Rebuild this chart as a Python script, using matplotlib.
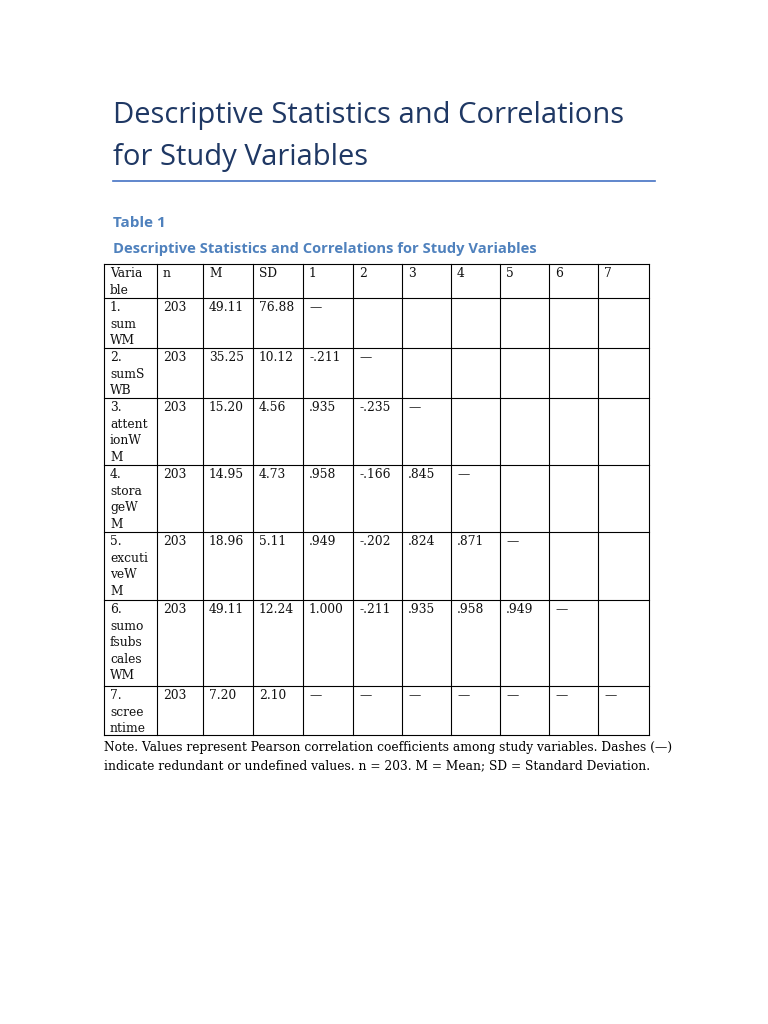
import matplotlib
matplotlib.use("Agg")
import matplotlib.pyplot as plt
from matplotlib.lines import Line2D

headers = ["Varia\nble", "n", "M", "SD", "1", "2", "3", "4", "5", "6", "7"]
variables = ["1.\nsum\nWM", "2.\nsumS\nWB", "3.\nattent\nionW\nM", "4.\nstora\ngeW\nM",
             "5.\nexcuti\nveW\nM", "6.\nsumo\nfsubs\ncales\nWM", "7.\nscree\nntime"]
n_vals = ["203"] * 7
means = ["49.11", "35.25", "15.20", "14.95", "18.96", "49.11", "7.20"]
sds = ["76.88", "10.12", "4.56", "4.73", "5.11", "12.24", "2.10"]
corrs = [
    ["—", "", "", "", "", "", ""],
    ["-.211", "—", "", "", "", "", ""],
    [".935", "-.235", "—", "", "", "", ""],
    [".958", "-.166", ".845", "—", "", "", ""],
    [".949", "-.202", ".824", ".871", "—", "", ""],
    ["1.000", "-.211", ".935", ".958", ".949", "—", ""],
    ["—", "—", "—", "—", "—", "—", "—"],
]

W, H = 768, 1024
fig = plt.figure(figsize=(W/100, H/100), dpi=100)
fig.patch.set_facecolor("white")

def T(x, y, s, **kw):
    fig.text(x/W, 1-y/H, s, **kw)

navy = "#1F3864"
blue = "#4472C4"
T(113, 115, "Descriptive Statistics and Correlations", fontsize=21, color=navy, family="Open Sans", va="center")
T(113, 157, "for Study Variables", fontsize=21, color=navy, family="Open Sans", va="center")
fig.add_artist(Line2D([113/W, 655/W], [1-181/H]*2, color=blue, lw=1.2))
T(113, 223, "Table 1", fontsize=11, color="#4F81BD", weight="bold", family="Open Sans", va="center")
T(113, 249, "Descriptive Statistics and Correlations for Study Variables", fontsize=10.6,
  color="#4F81BD", weight="bold", family="Open Sans", va="center")

xs = [104, 157, 203, 253, 303, 353, 402, 451, 500, 549, 598, 649]
ys = [264, 298, 348, 398, 465, 532, 600, 686, 735]
for x in xs:
    fig.add_artist(Line2D([x/W]*2, [1-ys[0]/H, 1-ys[-1]/H], color="black", lw=0.8))
for y in ys:
    fig.add_artist(Line2D([xs[0]/W, xs[-1]/W], [1-y/H]*2, color="black", lw=0.8))

rows = [headers] + [[variables[i], n_vals[i], means[i], sds[i]] + corrs[i] for i in range(7)]
for r, row in enumerate(rows):
    for c, s in enumerate(row):
        if s:
            T(xs[c] + 6, ys[r] + 3, s, fontsize=8.8, family="DejaVu Serif", va="top",
              linespacing=1.36, color="#111111")

T(104, 748, "Note. Values represent Pearson correlation coefficients among study variables. Dashes (—)",
  fontsize=8.8, family="DejaVu Serif", va="center")
T(104, 766, "indicate redundant or undefined values. n = 203. M = Mean; SD = Standard Deviation.",
  fontsize=8.8, family="DejaVu Serif", va="center")

fig.savefig("out.png", dpi=100)
